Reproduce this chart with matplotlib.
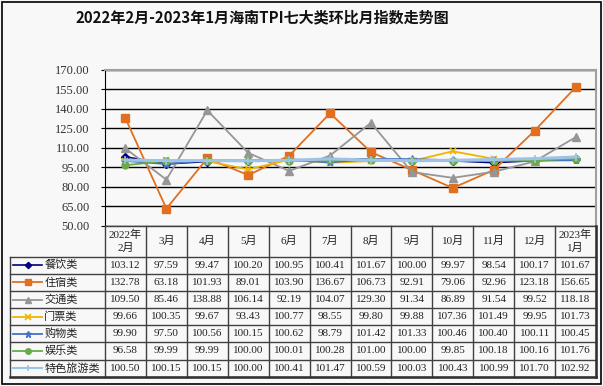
import matplotlib
matplotlib.use("Agg")
import matplotlib.pyplot as plt
from matplotlib.lines import Line2D

plt.rcParams['font.family'] = ['Liberation Serif', 'Noto Sans CJK SC', 'DejaVu Sans']

months = ["2022年\n2月", "3月", "4月", "5月", "6月", "7月", "8月", "9月", "10月", "11月", "12月", "2023年\n1月"]
series_names = ["餐饮类", "住宿类", "交通类", "门票类", "购物类", "娱乐类", "特色旅游类"]
canyin = [103.12, 97.59, 99.47, 100.20, 100.95, 100.41, 101.67, 100.00, 99.97, 98.54, 100.17, 101.67]
zhusu = [132.78, 63.18, 101.93, 89.01, 103.90, 136.67, 106.73, 92.91, 79.06, 92.96, 123.18, 156.65]
jiaotong = [109.50, 85.46, 138.88, 106.14, 92.19, 104.07, 129.30, 91.34, 86.89, 91.54, 99.52, 118.18]
menpiao = [99.66, 100.35, 99.67, 93.43, 100.77, 98.55, 99.80, 99.88, 107.36, 101.49, 99.95, 101.73]
gouwu = [99.90, 97.50, 100.56, 100.15, 100.62, 98.79, 101.42, 101.33, 100.46, 100.40, 100.11, 100.45]
yule = [96.58, 99.99, 99.99, 100.00, 100.01, 100.28, 101.00, 100.00, 99.85, 100.18, 100.16, 101.76]
tese = [100.50, 100.15, 100.15, 100.00, 100.41, 101.47, 100.59, 100.03, 100.43, 100.99, 101.70, 102.92]
yticks = [50, 65, 80, 95, 110, 125, 140, 155, 170]

all_series = [canyin, zhusu, jiaotong, menpiao, gouwu, yule, tese]
styles = [
    dict(color='#000080', marker='D', ms=4.0, lw=1.2),
    dict(color='#E0701F', marker='s', ms=5.5, lw=1.3),
    dict(color='#969696', marker='^', ms=6.0, lw=1.3),
    dict(color='#F0B400', marker='x', ms=5.0, lw=1.3, mew=1.2),
    dict(color='#4472C4', marker='*', ms=6.0, lw=1.3),
    dict(color='#6AAA48', marker='o', ms=5.0, lw=1.3),
    dict(color='#9DC3E6', marker='+', ms=6.0, lw=2.2, mew=1.2),
]

W, H = 603, 386
fig = plt.figure(figsize=(W / 100, H / 100), dpi=100)
fig.patch.set_facecolor('#F8F8F8')
fig.add_artist(plt.Rectangle((1.5 / W, 2.5 / H), (W - 3.5) / W, (H - 4) / H,
                             transform=fig.transFigure, fill=False, ec='black', lw=1.2))

fig.text(262 / W, 1 - 17 / H, "2022年2月-2023年1月海南TPI七大类环比月指数走势图",
         ha='center', va='center', fontsize=10.8, fontweight='bold', color='#111111',
         family=['Noto Sans CJK SC', 'DejaVu Sans'])

L, R, T, B = 105, 596, 70, 225.7
ax = fig.add_axes([L / W, 1 - B / H, (R - L) / W, (B - T) / H])
ax.set_facecolor('#F8F8F8')
x = list(range(len(months)))
for vals, st in zip(all_series, styles):
    ax.plot(x, vals, color=st['color'], marker=st['marker'], ms=st['ms'], lw=st['lw'],
            mew=st.get('mew', 1.0), zorder=3)
ax.set_xlim(-0.5, 11.5)
ax.set_ylim(50, 170)
ax.set_yticks(yticks)
ax.set_yticklabels([f"{v:.2f}" for v in yticks], fontsize=9, color='#333333')
ax.set_xticks([])
ax.yaxis.grid(True, color='black', lw=1.0)
ax.set_axisbelow(True)
for s in ['top', 'right']:
    ax.spines[s].set_color('#A0A0A0')
    ax.spines[s].set_linewidth(1.5)
ax.spines['left'].set_color('black')
ax.spines['bottom'].set_visible(False)
ax.tick_params(axis='y', length=3, color='black', pad=8)

TL, TB = 10, 376.7
hdr, rh = 31.0, 17.15
colw = (R - L) / 12
leg_cols = (L - TL) / colw
tax = fig.add_axes([TL / W, 1 - TB / H, (R - TL) / W, (TB - B) / H])
tax.set_xlim(-0.5 - leg_cols, 11.5)
total = hdr + rh * 7
tax.set_ylim(total, 0)
tax.axis('off')
lc = '#404040'
for i in range(13):
    xv = i - 0.5
    tax.plot([xv, xv], [0, total], color=lc, lw=1.0, clip_on=False)
tax.plot([-0.5, 11.5], [0, 0], color=lc, lw=1.0, clip_on=False)
for r in range(8):
    yv = hdr + r * rh
    tax.plot([-0.5 - leg_cols, 11.5], [yv, yv], color=lc, lw=1.0, clip_on=False)
tax.plot([-0.5 - leg_cols, -0.5 - leg_cols], [hdr, total], color=lc, lw=1.0, clip_on=False)
tax.plot([-0.5 - leg_cols, 11.5], [total, total], color='#303030', lw=1.8, clip_on=False)
tax.plot([11.5, 11.5], [0, total], color='#303030', lw=1.8, clip_on=False)

for i, m in enumerate(months):
    tax.text(i, hdr / 2, m, ha='center', va='center', fontsize=8, linespacing=1.3, color='#222222')
for r, (name, vals, st) in enumerate(zip(series_names, all_series, styles)):
    yc = hdr + r * rh + rh / 2
    x0 = -0.5 - leg_cols
    tax.add_line(Line2D([x0 + 0.08, x0 + 0.78], [yc, yc], color=st['color'], lw=min(st['lw'], 1.5),
                        clip_on=False))
    tax.add_line(Line2D([x0 + 0.43], [yc], color=st['color'], marker=st['marker'],
                        ms=st['ms'] * 0.8, mew=st.get('mew', 1.0), ls='none', clip_on=False))
    tax.text(x0 + 0.84, yc, name, ha='left', va='center', fontsize=8, color='#222222',
             family=['Noto Sans CJK SC', 'DejaVu Sans'])
    for i, v in enumerate(vals):
        tax.text(i, yc, f"{v:.2f}", ha='center', va='center', fontsize=8, color='#222222')

fig.savefig("out.png", dpi=100, facecolor=fig.get_facecolor())
